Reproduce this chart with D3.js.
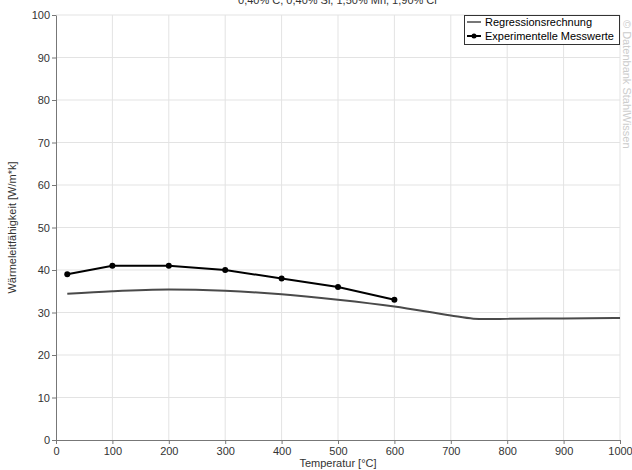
<!DOCTYPE html>
<html>
<head>
  <meta charset="UTF-8">
  <style>
    body { margin: 0; background-color: #fff; }
    svg { display: block; font-family: "Liberation Sans", Arial, sans-serif; }
  </style>
</head>
<body>
<svg></svg>
<script src="https://d3js.org/d3.v7.min.js"></script>
<script>
let width = 632, height = 470;
let margin = { top: 15, right: 12, bottom: 30, left: 56 };

// Regression curve
let regTemp = [20, 100, 200, 300, 400, 500, 600, 700, 740, 760, 800, 900, 1000];
let regValue = [34.4, 35.0, 35.4, 35.1, 34.3, 33.0, 31.4, 29.3, 28.55, 28.45, 28.5, 28.6, 28.7];

// Measured values
let expTemp = [20, 100, 200, 300, 400, 500, 600];
let expValue = [39, 41, 41, 40, 38, 36, 33];

let xTicks = [0, 100, 200, 300, 400, 500, 600, 700, 800, 900, 1000];
let yTicks = [0, 10, 20, 30, 40, 50, 60, 70, 80, 90, 100];

let svg = d3.select("svg").attr("width", width).attr("height", height);

let x = d3.scaleLinear().domain([0, 1000]).range([margin.left, width - margin.right]);
let y = d3.scaleLinear().domain([0, 100]).range([height - margin.bottom, margin.top]);

// title (cut off at top)
svg.append("text")
  .attr("x", 338).attr("y", 4)
  .attr("text-anchor", "middle")
  .style("font-size", "11px").style("fill", "#333")
  .text("0,40% C, 0,40% Si, 1,50% Mn, 1,90% Cr");

// grid
svg.append("g").selectAll("line").data(xTicks.slice(1)).enter().append("line")
  .attr("x1", d => x(d)).attr("x2", d => x(d))
  .attr("y1", y(0)).attr("y2", y(100))
  .attr("stroke", "#e3e3e3");
svg.append("g").selectAll("line").data(yTicks.slice(1)).enter().append("line")
  .attr("x1", x(0)).attr("x2", x(1000))
  .attr("y1", d => y(d)).attr("y2", d => y(d))
  .attr("stroke", "#e3e3e3");

// axes
let xAxis = svg.append("g")
  .attr("transform", `translate(0,${y(0)})`)
  .call(d3.axisBottom(x).tickValues(xTicks).tickFormat(d3.format("d")).tickSize(4).tickSizeOuter(0));
let yAxis = svg.append("g")
  .attr("transform", `translate(${x(0)},0)`)
  .call(d3.axisLeft(y).tickValues(yTicks).tickFormat(d3.format("d")).tickSize(4).tickSizeOuter(0));

[xAxis, yAxis].forEach(a => {
  a.select(".domain").attr("stroke", "#777");
  a.selectAll(".tick line").attr("stroke", "#777");
  a.selectAll(".tick text").style("font-size", "11px").style("fill", "#333")
    .style("font-family", "Liberation Sans, Arial, sans-serif");
});
yAxis.selectAll(".tick text").attr("x", -6);

// axis titles
svg.append("text")
  .attr("x", x(500)).attr("y", 467)
  .attr("text-anchor", "middle")
  .style("font-size", "11px").style("fill", "#333")
  .text("Temperatur [°C]");
svg.append("text")
  .attr("transform", `translate(16,${y(50)}) rotate(-90)`)
  .attr("text-anchor", "middle")
  .style("font-size", "11px").style("fill", "#333")
  .text("Wärmeleitfähigkeit [W/m*k]");

// lines
let regLine = d3.line()
  .x((d, i) => x(regTemp[i]))
  .y(d => y(d))
  .curve(d3.curveMonotoneX);
svg.append("path")
  .attr("d", regLine(regValue))
  .attr("fill", "none").attr("stroke", "#4a4a4a").attr("stroke-width", 2);

let expLine = d3.line()
  .x((d, i) => x(expTemp[i]))
  .y(d => y(d));
svg.append("path")
  .attr("d", expLine(expValue))
  .attr("fill", "none").attr("stroke", "#000").attr("stroke-width", 2);
svg.append("g").selectAll("circle").data(expValue).enter().append("circle")
  .attr("cx", (d, i) => x(expTemp[i])).attr("cy", d => y(d))
  .attr("r", 3).attr("fill", "#000");

// legend
let legend = svg.append("g").attr("transform", "translate(464,15)");
legend.append("rect")
  .attr("x", 0.5).attr("y", 0.5).attr("width", 155).attr("height", 29)
  .attr("fill", "#fff").attr("stroke", "#333");
let legendItems = ["Regressionsrechnung", "Experimentelle Messwerte"];
legendItems.forEach((label, i) => {
  let cy = 7 + i * 14;
  legend.append("line")
    .attr("x1", 3).attr("x2", 17).attr("y1", cy).attr("y2", cy)
    .attr("stroke", i === 0 ? "#4a4a4a" : "#000").attr("stroke-width", i === 0 ? 1.5 : 2);
  if (i === 1) legend.append("circle").attr("cx", 10).attr("cy", cy).attr("r", 2.5).attr("fill", "#000");
  legend.append("text")
    .attr("x", 21).attr("y", cy + 4)
    .style("font-size", "11px").style("fill", "#000")
    .text(label);
});

// watermark
svg.append("text")
  .attr("transform", "translate(623,20) rotate(90)")
  .style("font-size", "11px").style("fill", "#ccc")
  .text("© Datenbank StahlWissen");
</script>
</body>
</html>
